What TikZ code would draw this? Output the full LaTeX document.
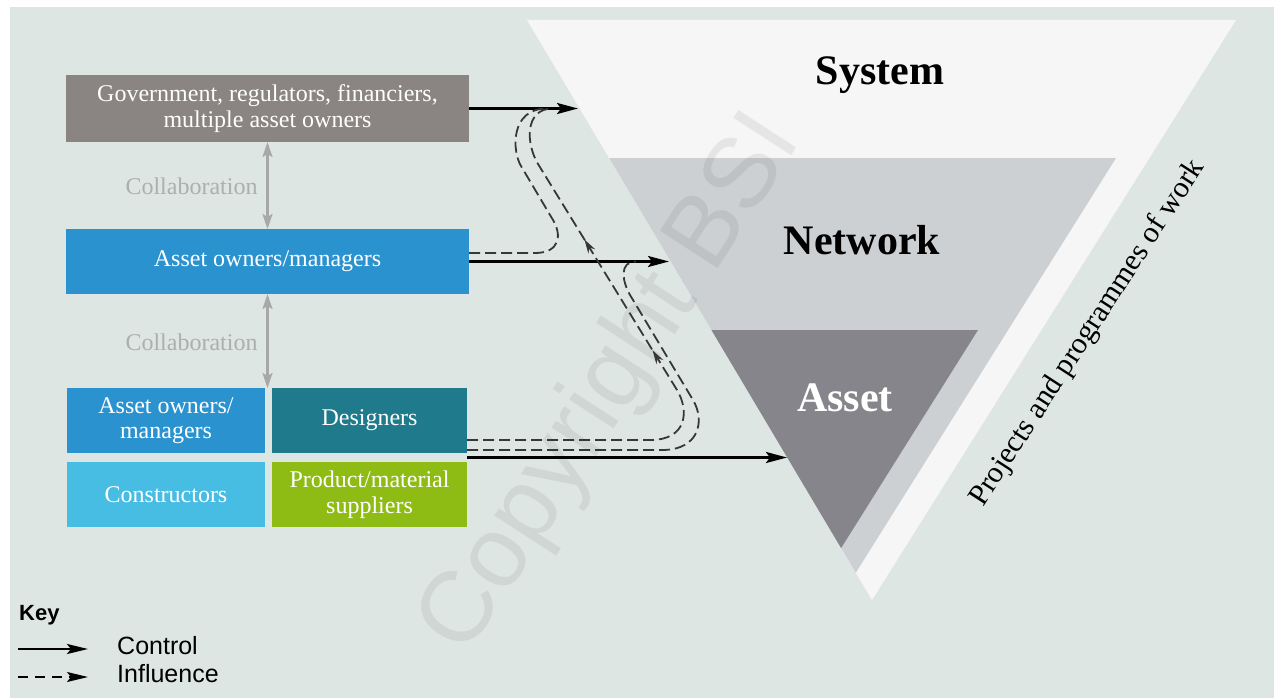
\documentclass[tikz,border=0pt]{standalone}
\usepackage{fontspec}
\setmainfont{Liberation Serif}
\newfontfamily\keyfont{Liberation Sans}
\usetikzlibrary{arrows.meta,decorations.markings}
\definecolor{bgc}{RGB}{222,230,227}
\definecolor{whitec}{RGB}{246,246,246}
\definecolor{netc}{RGB}{205,208,211}
\definecolor{assc}{RGB}{134,133,139}
\definecolor{govc}{RGB}{138,132,130}
\definecolor{aomc}{RGB}{42,147,207}
\definecolor{desc}{RGB}{31,122,140}
\definecolor{conc}{RGB}{72,189,228}
\definecolor{supc}{RGB}{143,188,20}
\definecolor{collabc}{RGB}{166,168,170}
\definecolor{collabt}{RGB}{172,175,175}
\definecolor{inflc}{RGB}{55,55,55}
\tikzset{
  box/.style={inner sep=0pt, outer sep=0pt, text=white, align=center,
    font=\fontsize{24}{25.5}\selectfont},
  ctrl/.style={line width=2.4pt, black, -{Stealth[length=21pt,width=11pt,inset=4pt]}},
  infl/.style={line width=1.8pt, inflc, dash pattern=on 11pt off 5pt},
  collab/.style={line width=2.2pt, collabc, {Stealth[length=15pt,width=10pt,inset=3pt]}-{Stealth[length=15pt,width=10pt,inset=3pt]}},
  collabtxt/.style={text=collabt, font=\fontsize{24}{28}\selectfont, anchor=base, inner sep=0pt},
  levelt/.style={font=\fontsize{42}{48}\selectfont\bfseries, anchor=base, inner sep=0pt},
  keyt/.style={font=\keyfont\fontsize{25}{30}\selectfont, anchor=base west, inner sep=0pt},
  midarrows/.style={postaction={decorate}, decoration={markings,
    mark=at position 303pt with {\arrow{Stealth[length=14pt,width=8pt]}},
    mark=at position 433pt with {\arrow{Stealth[length=14pt,width=8pt]}}}}
}
\begin{document}
\begin{tikzpicture}[x=1pt,y=-1pt]
\useasboundingbox (0,0) rectangle (1274,698);
\fill[bgc] (10,7) rectangle (1274,698);
% triangles
\fill[whitec] (527,20) -- (1236,20) -- (872,600) -- cycle;
\fill[netc] (609.1,158) -- (1116,158) -- (855.8,572.7) -- cycle;
\fill[assc] (711.4,330) -- (978,330) -- (841.1,548.1) -- cycle;
% watermark
\node[font=\keyfont\fontsize{100}{110}\selectfont, text=black, opacity=0.065, rotate=57, inner sep=0pt] (wm) at (612,385) {Copyright BSI};
\node[levelt] (sys) at (880,85) {System};
\node[levelt] (net) at (862,254) {Network};
\node[levelt, text=white] (ass) at (845,411) {Asset};
\node[font=\fontsize{30}{36}\selectfont, rotate=57, inner sep=0pt] (proj) at (1088,333) {Projects and programmes of work};
% boxes
\node[box, fill=govc, minimum width=403pt, minimum height=67pt] (gov) at (267.5,108.5) {Government, regulators, financiers,\\multiple asset owners};
\node[box, fill=aomc, minimum width=403pt, minimum height=65pt] (aom) at (267.5,261.5) {Asset owners/managers};
\node[box, fill=aomc, minimum width=198pt, minimum height=65pt] (aom2) at (166,420.5) {Asset owners/\\managers};
\node[box, fill=desc, minimum width=195pt, minimum height=65pt] (des) at (369.5,420.5) {Designers};
\node[box, fill=conc, minimum width=198pt, minimum height=65pt] (con) at (166,494.5) {Constructors};
\node[box, fill=supc, minimum width=195pt, minimum height=65pt] (sup) at (369.5,494.5) {Product/material\\suppliers};
% collaboration
\node[collabtxt] (col1) at (191.5,194) {Collaboration};
\node[collabtxt] (col2) at (191.5,350) {Collaboration};
\coordinate (gap) at (267.5,388);
\draw[collab] (gov.south) -- (aom.north);
\draw[collab] (aom.south) -- (gap);
% control arrows
\coordinate (sysin) at (578,108.5);
\coordinate (netin) at (669,261.5);
\coordinate (lowout) at (467,457.5);
\coordinate (assin) at (787,457.5);
\draw[ctrl] (gov.east) -- (sysin);
\draw[ctrl] (aom.east) -- (netin);
\draw[ctrl] (lowout) -- (assin);
% influence lines
\draw[infl] ([yshift=8.5pt]aom.east) -- (535,253) .. controls (560,253) and (562,235) .. (553,220) -- (521,166) .. controls (512,151) and (510,108.5) .. (547,108.5);
\draw[infl, midarrows] ([yshift=-19.5pt]des.east) -- (650,440) .. controls (688,440) and (689,410) .. (677,390) -- (538,164) .. controls (526,144) and (524,108.5) .. (553,108.5);
\draw[infl] ([yshift=-29.5pt]des.east) -- (662,450) .. controls (700,450) and (705,420) .. (693,400) -- (630,295) .. controls (622,281) and (619,261.5) .. (636,261.5);
% key
\node[font=\keyfont\fontsize{22}{26}\selectfont\bfseries, anchor=base west, inner sep=0pt] (key) at (19,620) {Key};
\node[keyt] (kc) at (117,654) {Control};
\node[keyt] (ki) at (117,682) {Influence};
\coordinate (k1a) at (18,649);
\coordinate (k1b) at (88,649);
\coordinate (k2a) at (18,677);
\coordinate (k2b) at (88,677);
\draw[line width=2.4pt, black, -{Stealth[length=21pt,width=10pt,inset=4pt]}] (k1a) -- (k1b);
\draw[line width=1.8pt, black, dash pattern=on 10pt off 7pt, -{Stealth[length=21pt,width=10pt,inset=4pt]}] (k2a) -- (k2b);
\end{tikzpicture}
\end{document}
